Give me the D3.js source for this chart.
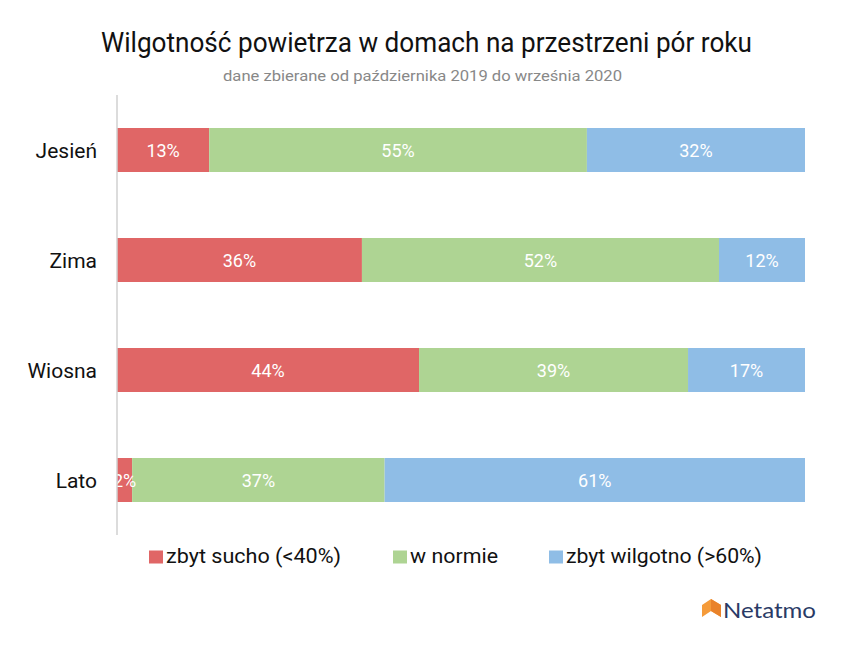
<!DOCTYPE html>
<html><head><meta charset="utf-8">
<script src="https://cdn.jsdelivr.net/npm/d3@7"></script>
<style>body{margin:0;background:#fff;font-family:Roboto,sans-serif;}</style>
</head><body><svg id="c" width="852" height="649"></svg>
<script>
const categories = ["Jesień","Zima","Wiosna","Lato"];
const seriesNames = ["zbyt sucho (<40%)","w normie","zbyt wilgotno (>60%)"];
const sucho = [13.4, 35.6, 43.9, 2.2];
const normie = [54.9, 51.9, 39.1, 36.7];
const wilgotno = [31.7, 12.5, 17.0, 61.1];
const labelsSucho = ["13%","36%","44%","2%"];
const labelsNormie = ["55%","52%","39%","37%"];
const labelsWilgotno = ["32%","12%","17%","61%"];
const colors = ["#e06666","#aed493","#8fbde6"];

const svg = d3.select("#c");
const x = d3.scaleLinear().domain([0,100]).range([117,805]);
const y = d3.scaleBand().domain(categories).range([95,535]).paddingInner(0.6).paddingOuter(0.3);

svg.append("text").attr("x",101).attr("y",52)
  .attr("font-size",27).attr("fill","#111").attr("textLength",651).attr("lengthAdjust","spacingAndGlyphs")
  .text("Wilgotność powietrza w domach na przestrzeni pór roku");
svg.append("text").attr("x",223).attr("y",81)
  .attr("font-size",15).attr("fill","#888").attr("textLength",399).attr("lengthAdjust","spacingAndGlyphs")
  .text("dane zbierane od października 2019 do września 2020");

const series = [sucho, normie, wilgotno];
const labels = [labelsSucho, labelsNormie, labelsWilgotno];
const rows = categories.map((c,i)=>{
  let acc=0; return series.map((s,j)=>{const r={cat:c,j,x0:acc,x1:acc+s[i],label:labels[j][i]}; acc+=s[i]; return r;});
}).flat();

svg.selectAll("rect.bar").data(rows).join("rect").attr("class","bar")
  .attr("x",d=>x(d.x0)).attr("width",d=>x(d.x1)-x(d.x0))
  .attr("y",d=>y(d.cat)).attr("height",y.bandwidth()).attr("fill",d=>colors[d.j]);
svg.selectAll("text.val").data(rows).join("text").attr("class","val")
  .attr("x",d=>(x(d.x0)+x(d.x1))/2).attr("y",d=>y(d.cat)+y.bandwidth()/2+7)
  .attr("text-anchor","middle").attr("font-size",18).attr("fill","#fff").text(d=>d.label);

svg.append("line").attr("x1",117).attr("x2",117).attr("y1",95).attr("y2",535)
  .attr("stroke","#d0d0d0").attr("stroke-width",1.5);

svg.selectAll("text.cat").data(categories).join("text").attr("class","cat")
  .attr("x",97).attr("y",d=>y(d)+y.bandwidth()/2+7.5).attr("text-anchor","end")
  .attr("font-size",21).attr("fill","#111").text(d=>d);

const legX = [149,393,549];
const legW = [175,88,196];
const lg = svg.selectAll("g.leg").data(seriesNames).join("g").attr("class","leg")
  .attr("transform",(d,i)=>`translate(${legX[i]},557)`);
lg.append("rect").attr("x",0).attr("y",-6.5).attr("width",14).attr("height",13).attr("fill",(d,i)=>colors[i]);
lg.append("text").attr("x",17).attr("y",5.5).attr("font-size",20.5).attr("fill","#111")
  .attr("textLength",(d,i)=>legW[i]).attr("lengthAdjust","spacingAndGlyphs").text(d=>d);

// Netatmo logo
const logo = svg.append("g").attr("transform","translate(702,599)");
logo.append("path").attr("d","M0,6 L9,0 L19,6 L19,18 L9,12 L0,18 Z").attr("fill","#f59b3a");
logo.append("path").attr("d","M9,0 L19,6 L19,18 L9,12 Z").attr("fill","#e9822a");
svg.append("text").attr("x",723).attr("y",617.5).attr("font-size",21).attr("fill","#2a3a66")
  .attr("font-family","Lato, sans-serif").attr("textLength",93).attr("lengthAdjust","spacingAndGlyphs").text("Netatmo");
</script></body></html>
